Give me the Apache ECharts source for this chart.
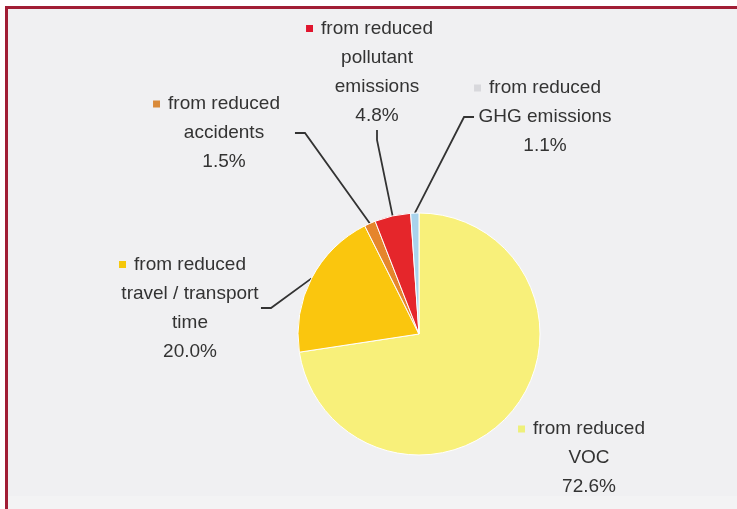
<!DOCTYPE html>
<html>
<head>
<meta charset="utf-8">
<style>
html,body{margin:0;padding:0;background:#ffffff;}
#chart{width:737px;height:509px;}
</style>
<script src="https://cdn.jsdelivr.net/npm/echarts@6/dist/echarts.min.js"></script>
</head>
<body>
<div id="chart"></div>
<script>
// Data
const categories = ['from reduced\nVOC', 'from reduced\ntravel / transport\ntime', 'from reduced\naccidents', 'from reduced\npollutant\nemissions', 'from reduced\nGHG emissions'];
const shares = [72.6, 20.0, 1.5, 4.8, 1.1];
const colors = ['#F8F07A', '#FAC60E', '#E5852C', '#E5262B', '#A9D3EC'];
const markerColors = ['#EEF07A', '#F5C70A', '#D98A3A', '#E0152E', '#D8D8DC'];

// label block anchors (style/placement config)
const labelPos = [
  {x: 589, y: 458},
  {x: 190, y: 308},
  {x: 224, y: 133},
  {x: 377, y: 72},
  {x: 545, y: 117}
];

const chart = echarts.init(document.getElementById('chart'));
const FONT = '"Liberation Sans", Arial, sans-serif';

const seriesData = categories.map((name, i) => {
  const lines = name.split('\n');
  const first = '{m' + i + '|}{g|}{t|' + lines[0] + '}{s|}';
  const rest = lines.slice(1).map(l => '{t|' + l + '}');
  const text = [first].concat(rest).concat(['{t|' + shares[i].toFixed(1) + '%}']).join('\n');
  return {
    name: name,
    value: shares[i],
    itemStyle: {color: colors[i]},
    label: {formatter: text},
    labelLine: {show: i !== 0}
  };
});

const rich = {
  t: {fontSize: 19, fontFamily: FONT, color: '#333333', lineHeight: 29, align: 'center'},
  g: {width: 8, height: 7},
  s: {width: 15, height: 7}
};
markerColors.forEach((c, i) => {
  rich['m' + i] = {width: 7, height: 7, backgroundColor: c, align: 'center'};
});

chart.setOption({
  backgroundColor: '#F3F3F4',
  animation: false,
  graphic: [
    {type: 'rect', shape: {x: 5, y: 6, width: 740, height: 490}, style: {fill: '#F0F0F2'}, z: -10},
    {type: 'rect', shape: {x: 0, y: 0, width: 737, height: 6}, style: {fill: '#ffffff'}, z: -10},
    {type: 'rect', shape: {x: 0, y: 0, width: 5, height: 509}, style: {fill: '#ffffff'}, z: -10},
    {type: 'rect', shape: {x: 5, y: 6, width: 740, height: 3}, style: {fill: '#A11D35'}, z: 10},
    {type: 'rect', shape: {x: 5, y: 6, width: 3, height: 503}, style: {fill: '#A11D35'}, z: 10}
  ],
  series: [{
    type: 'pie',
    center: [419, 334],
    radius: 121,
    startAngle: 90,
    clockwise: true,
    data: seriesData,
    itemStyle: {borderColor: '#ffffff', borderWidth: 1},
    label: {
      show: true,
      position: 'outside',
      rich: rich,
      lineHeight: 29,
      align: 'center',
      color: '#333333'
    },
    labelLine: {show: true, lineStyle: {color: '#333333', width: 1.8}, length: 20, length2: 10},
    labelLayout: function (p) {
      const pos = labelPos[p.dataIndex];
      return {x: pos.x, y: pos.y, align: 'center', verticalAlign: 'middle', hideOverlap: false};
    },
    emphasis: {disabled: true}
  }]
});
</script>
</body>
</html>
